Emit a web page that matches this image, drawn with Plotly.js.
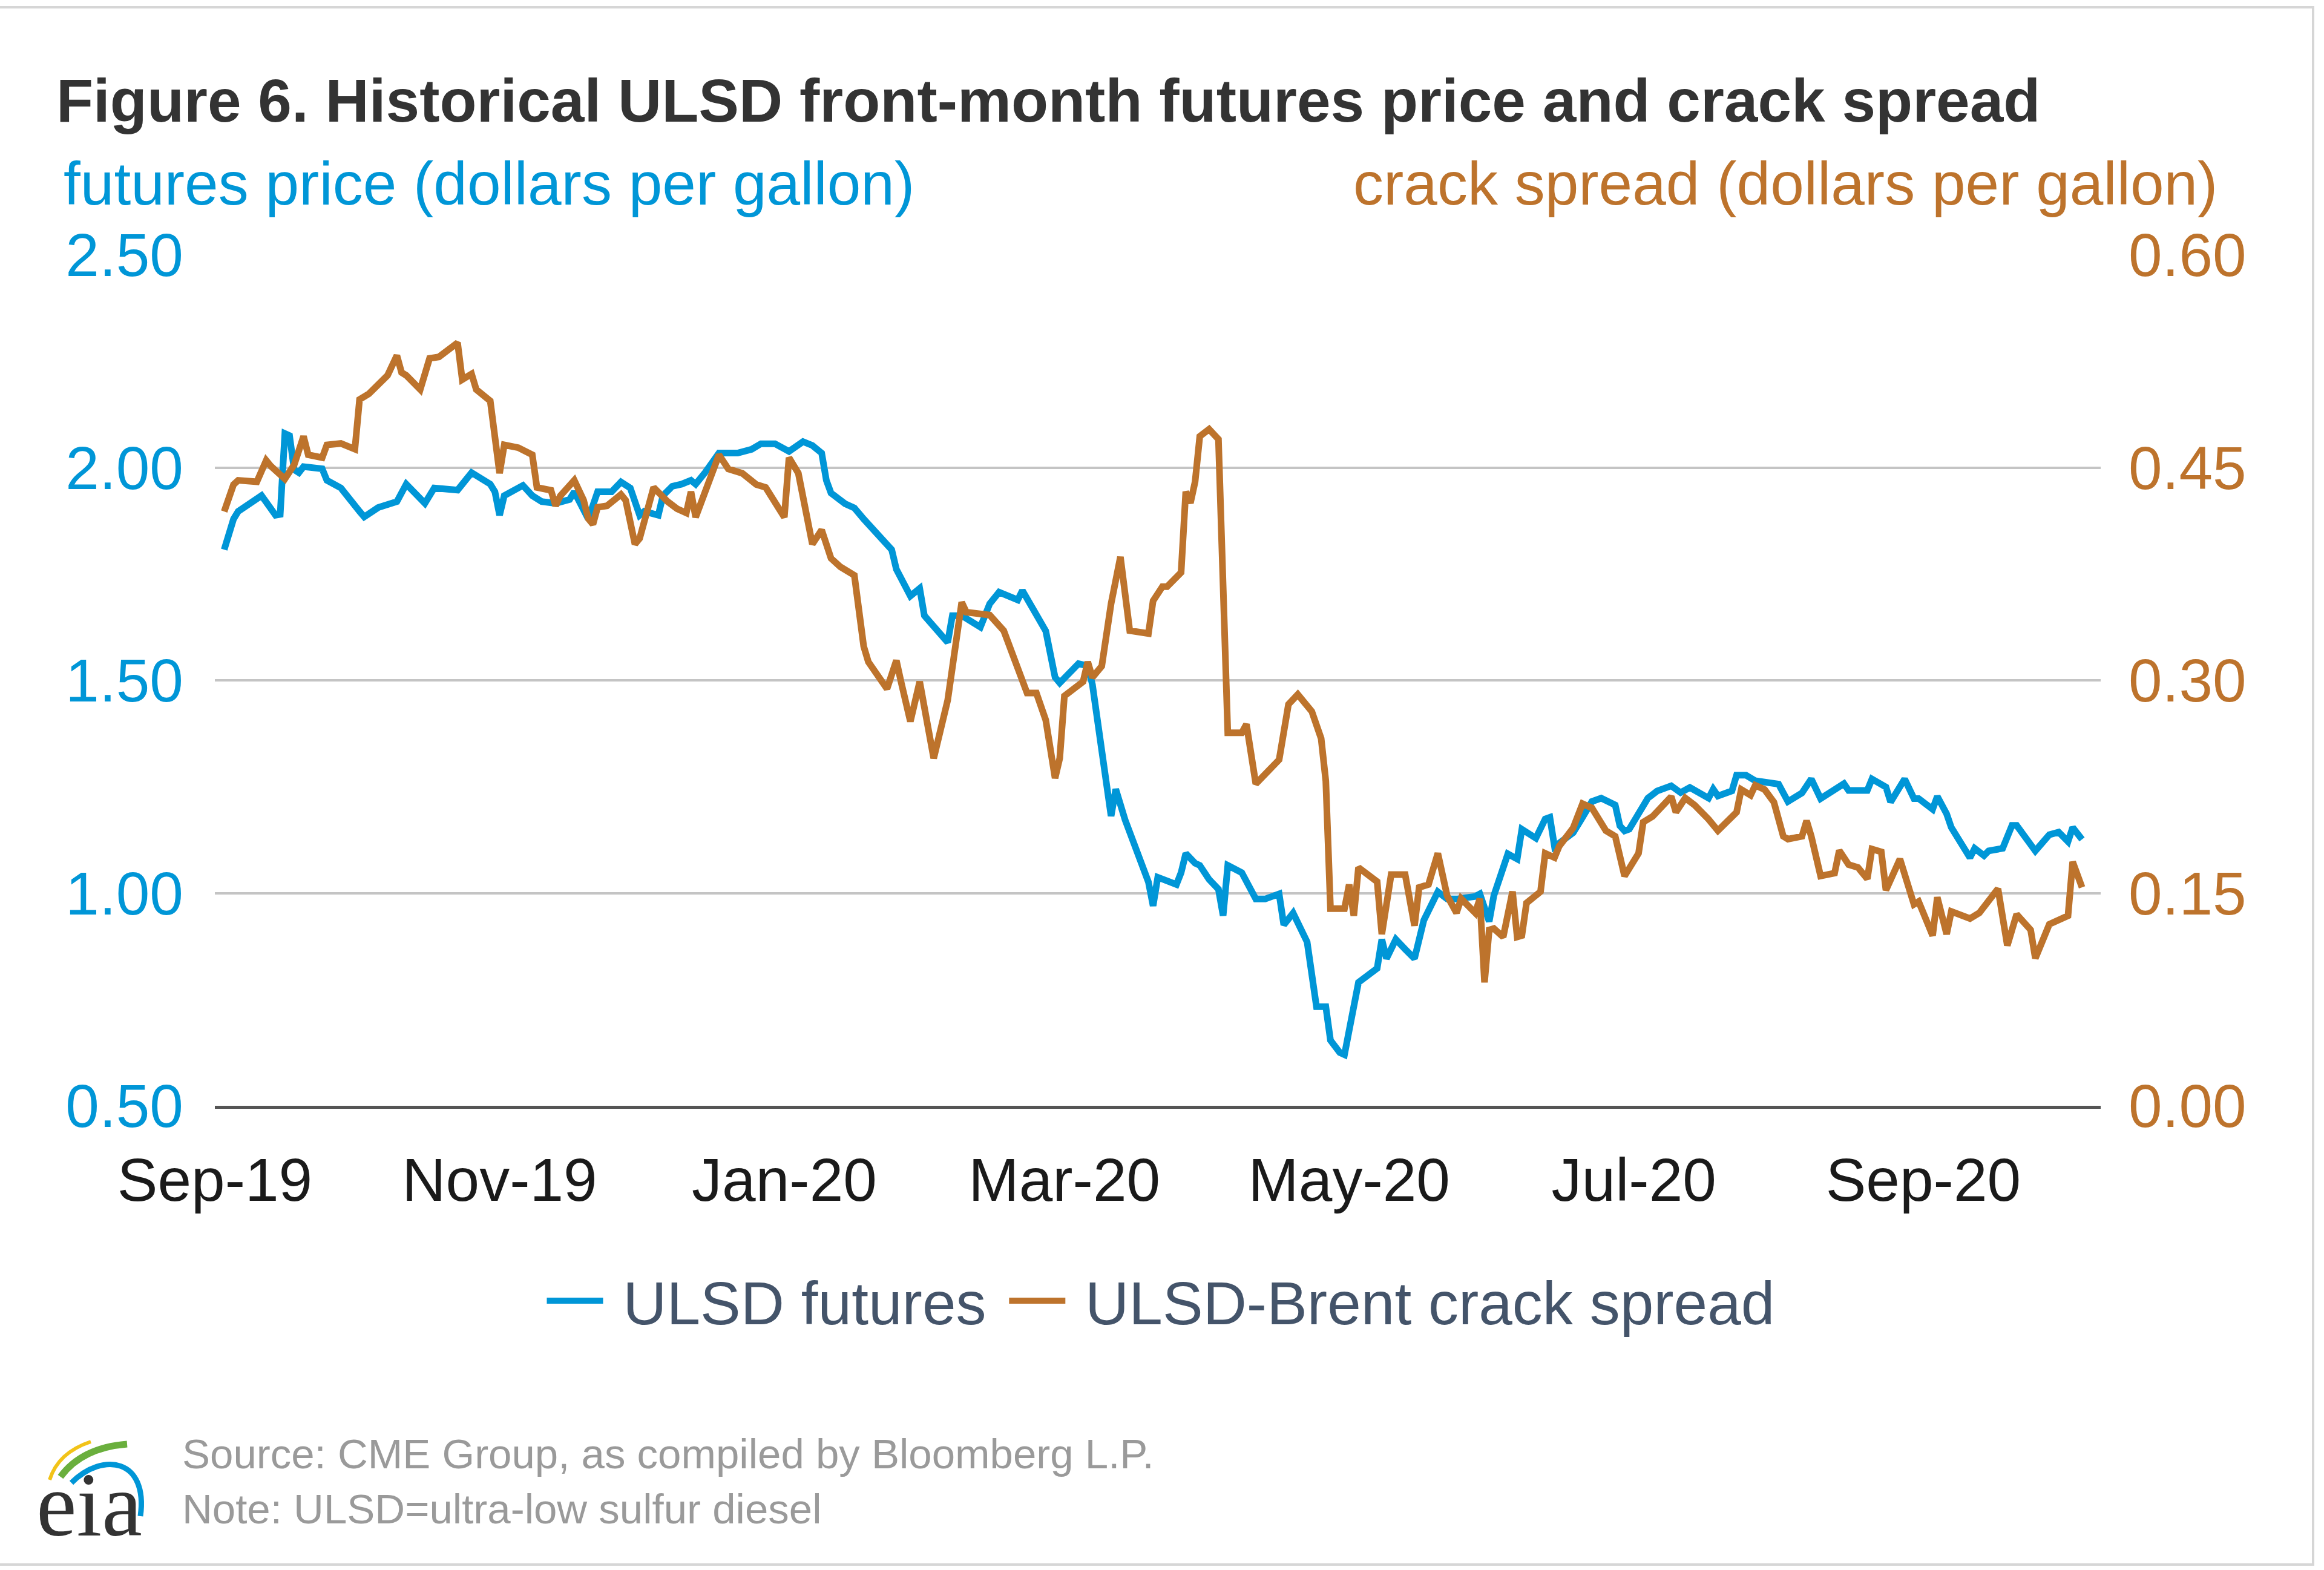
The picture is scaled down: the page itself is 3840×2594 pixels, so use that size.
<!DOCTYPE html>
<html>
<head>
<meta charset="utf-8">
<script src="https://cdn.plot.ly/plotly-3.0.1.min.js"></script>
<style>
html,body{margin:0;padding:0;background:#ffffff;}
#chart{width:3840px;height:2594px;}
</style>
</head>
<body>
<div id="chart"></div>
<script>
// ---- data ----
const seriesNames = ['ULSD futures', 'ULSD-Brent crack spread'];

// ULSD front-month futures price, dollars per gallon
const ulsdFutures = [
 ['2019-09-03',1.807],['2019-09-05',1.879],['2019-09-06',1.897],['2019-09-11',1.934],['2019-09-14',1.888],
 ['2019-09-15',1.890],['2019-09-16',2.080],['2019-09-17',2.075],['2019-09-18',1.995],['2019-09-19',1.988],
 ['2019-09-20',2.002],['2019-09-24',1.997],['2019-09-25',1.970],['2019-09-28',1.952],['2019-10-02',1.897],
 ['2019-10-03',1.884],['2019-10-06',1.906],['2019-10-10',1.920],['2019-10-12',1.961],['2019-10-16',1.916],
 ['2019-10-18',1.952],['2019-10-23',1.947],['2019-10-26',1.988],['2019-10-30',1.961],['2019-10-31',1.943],
 ['2019-11-01',1.888],['2019-11-02',1.934],['2019-11-06',1.958],['2019-11-08',1.934],['2019-11-10',1.920],
 ['2019-11-13',1.916],['2019-11-16',1.925],['2019-11-17',1.943],['2019-11-20',1.879],['2019-11-22',1.943],
 ['2019-11-25',1.943],['2019-11-27',1.966],['2019-11-29',1.952],['2019-12-01',1.888],['2019-12-02',1.897],
 ['2019-12-05',1.888],['2019-12-06',1.934],['2019-12-08',1.956],['2019-12-10',1.961],['2019-12-12',1.970],
 ['2019-12-13',1.961],['2019-12-15',1.988],['2019-12-18',2.034],['2019-12-22',2.034],['2019-12-25',2.043],
 ['2019-12-27',2.056],['2019-12-30',2.056],['2020-01-02',2.038],['2020-01-05',2.061],['2020-01-07',2.052],
 ['2020-01-09',2.034],['2020-01-10',1.970],['2020-01-11',1.940],['2020-01-14',1.915],['2020-01-16',1.905],
 ['2020-01-18',1.879],['2020-01-22',1.834],['2020-01-24',1.807],['2020-01-25',1.761],['2020-01-28',1.698],
 ['2020-01-30',1.716],['2020-01-31',1.652],['2020-02-05',1.589],['2020-02-06',1.652],['2020-02-08',1.652],
 ['2020-02-12',1.625],['2020-02-14',1.680],['2020-02-16',1.707],['2020-02-20',1.689],['2020-02-21',1.711],
 ['2020-02-26',1.616],['2020-02-28',1.507],['2020-02-29',1.494],['2020-03-04',1.539],['2020-03-06',1.534],
 ['2020-03-07',1.490],['2020-03-09',1.335],['2020-03-11',1.181],['2020-03-12',1.244],['2020-03-14',1.172],
 ['2020-03-19',1.026],['2020-03-20',0.970],['2020-03-21',1.037],['2020-03-25',1.020],['2020-03-26',1.048],
 ['2020-03-27',1.093],['2020-03-29',1.070],['2020-03-30',1.065],['2020-04-01',1.032],['2020-04-03',1.009],
 ['2020-04-04',0.947],['2020-04-05',1.065],['2020-04-08',1.048],['2020-04-11',0.986],['2020-04-13',0.986],
 ['2020-04-16',0.998],['2020-04-17',0.925],['2020-04-19',0.953],['2020-04-22',0.885],['2020-04-24',0.733],
 ['2020-04-26',0.733],['2020-04-27',0.654],['2020-04-29',0.625],['2020-04-30',0.620],['2020-05-01',0.677],
 ['2020-05-03',0.790],['2020-05-07',0.823],['2020-05-08',0.891],['2020-05-09',0.846],['2020-05-11',0.891],
 ['2020-05-13',0.868],['2020-05-15',0.846],['2020-05-17',0.936],['2020-05-20',1.003],['2020-05-22',0.986],
 ['2020-05-24',0.986],['2020-05-28',0.992],['2020-05-29',0.998],['2020-05-31',0.933],['2020-06-01',0.994],
 ['2020-06-04',1.092],['2020-06-06',1.080],['2020-06-07',1.150],['2020-06-10',1.129],['2020-06-12',1.174],
 ['2020-06-13',1.178],['2020-06-14',1.109],['2020-06-18',1.142],['2020-06-20',1.178],['2020-06-22',1.215],
 ['2020-06-24',1.223],['2020-06-27',1.207],['2020-06-28',1.158],['2020-06-29',1.146],['2020-06-30',1.150],
 ['2020-07-04',1.223],['2020-07-06',1.240],['2020-07-09',1.252],['2020-07-11',1.236],['2020-07-13',1.248],
 ['2020-07-17',1.223],['2020-07-18',1.244],['2020-07-19',1.228],['2020-07-22',1.240],['2020-07-23',1.277],
 ['2020-07-25',1.277],['2020-07-27',1.264],['2020-07-29',1.260],['2020-08-01',1.256],['2020-08-03',1.215],
 ['2020-08-06',1.235],['2020-08-08',1.268],['2020-08-10',1.222],['2020-08-15',1.257],['2020-08-16',1.241],
 ['2020-08-20',1.241],['2020-08-21',1.268],['2020-08-24',1.249],['2020-08-25',1.214],['2020-08-28',1.268],
 ['2020-08-30',1.222],['2020-08-31',1.222],['2020-09-03',1.197],['2020-09-04',1.227],['2020-09-06',1.186],
 ['2020-09-07',1.154],['2020-09-11',1.083],['2020-09-12',1.105],['2020-09-14',1.088],['2020-09-15',1.099],
 ['2020-09-18',1.105],['2020-09-20',1.159],['2020-09-21',1.159],['2020-09-25',1.099],['2020-09-28',1.137],
 ['2020-09-30',1.143],['2020-10-02',1.121],['2020-10-03',1.154],['2020-10-05',1.126]
];

// ULSD-Brent crack spread, dollars per gallon
const crackSpread = [
 ['2019-09-03',0.419],['2019-09-05',0.438],['2019-09-06',0.441],['2019-09-10',0.440],['2019-09-12',0.455],
 ['2019-09-13',0.451],['2019-09-15',0.445],['2019-09-16',0.442],['2019-09-18',0.452],['2019-09-20',0.472],
 ['2019-09-21',0.459],['2019-09-24',0.457],['2019-09-25',0.466],['2019-09-28',0.467],['2019-10-01',0.463],
 ['2019-10-02',0.498],['2019-10-04',0.502],['2019-10-08',0.515],['2019-10-10',0.529],['2019-10-11',0.517],
 ['2019-10-12',0.515],['2019-10-15',0.505],['2019-10-17',0.527],['2019-10-19',0.528],['2019-10-23',0.538],
 ['2019-10-24',0.512],['2019-10-26',0.516],['2019-10-27',0.505],['2019-10-30',0.497],['2019-10-31',0.468],
 ['2019-11-01',0.446],['2019-11-02',0.466],['2019-11-05',0.464],['2019-11-08',0.459],['2019-11-09',0.436],
 ['2019-11-12',0.434],['2019-11-13',0.423],['2019-11-14',0.430],['2019-11-17',0.441],['2019-11-19',0.427],
 ['2019-11-20',0.414],['2019-11-21',0.410],['2019-11-22',0.422],['2019-11-24',0.423],['2019-11-27',0.431],
 ['2019-11-28',0.427],['2019-11-30',0.396],['2019-12-01',0.400],['2019-12-04',0.436],['2019-12-07',0.426],
 ['2019-12-09',0.421],['2019-12-11',0.418],['2019-12-12',0.433],['2019-12-13',0.415],['2019-12-18',0.459],
 ['2019-12-20',0.449],['2019-12-23',0.446],['2019-12-26',0.438],['2019-12-28',0.436],['2020-01-01',0.415],
 ['2020-01-02',0.457],['2020-01-04',0.446],['2020-01-07',0.396],['2020-01-09',0.406],['2020-01-11',0.386],
 ['2020-01-13',0.380],['2020-01-16',0.374],['2020-01-18',0.324],['2020-01-19',0.313],['2020-01-23',0.294],
 ['2020-01-25',0.314],['2020-01-26',0.299],['2020-01-28',0.271],['2020-01-30',0.299],['2020-02-02',0.245],
 ['2020-02-05',0.286],['2020-02-08',0.355],['2020-02-09',0.348],['2020-02-14',0.346],['2020-02-17',0.335],
 ['2020-02-21',0.299],['2020-02-22',0.291],['2020-02-24',0.291],['2020-02-26',0.272],['2020-02-28',0.231],
 ['2020-02-29',0.245],['2020-03-01',0.289],['2020-03-05',0.299],['2020-03-06',0.313],['2020-03-07',0.302],
 ['2020-03-09',0.310],['2020-03-11',0.354],['2020-03-13',0.387],['2020-03-15',0.335],['2020-03-19',0.333],
 ['2020-03-20',0.356],['2020-03-22',0.366],['2020-03-23',0.366],['2020-03-26',0.376],['2020-03-27',0.433],
 ['2020-03-28',0.425],['2020-03-29',0.440],['2020-03-30',0.472],['2020-04-01',0.477],['2020-04-03',0.470],
 ['2020-04-04',0.360],['2020-04-05',0.263],['2020-04-08',0.263],['2020-04-09',0.269],['2020-04-11',0.227],
 ['2020-04-16',0.244],['2020-04-18',0.283],['2020-04-20',0.290],['2020-04-23',0.278],['2020-04-25',0.259],
 ['2020-04-26',0.229],['2020-04-27',0.139],['2020-04-30',0.139],['2020-05-01',0.156],['2020-05-02',0.134],
 ['2020-05-03',0.168],['2020-05-07',0.158],['2020-05-08',0.121],['2020-05-10',0.163],['2020-05-13',0.163],
 ['2020-05-15',0.127],['2020-05-16',0.154],['2020-05-18',0.156],['2020-05-20',0.178],['2020-05-22',0.148],
 ['2020-05-24',0.136],['2020-05-25',0.146],['2020-05-28',0.136],['2020-05-29',0.146],['2020-05-30',0.087],
 ['2020-05-31',0.124],['2020-06-01',0.125],['2020-06-03',0.119],['2020-06-05',0.151],['2020-06-06',0.119],
 ['2020-06-07',0.120],['2020-06-08',0.143],['2020-06-11',0.151],['2020-06-12',0.178],['2020-06-14',0.175],
 ['2020-06-15',0.183],['2020-06-18',0.196],['2020-06-20',0.213],['2020-06-22',0.210],['2020-06-25',0.194],
 ['2020-06-27',0.190],['2020-06-29',0.162],['2020-07-02',0.178],['2020-07-03',0.200],['2020-07-05',0.204],
 ['2020-07-09',0.218],['2020-07-10',0.207],['2020-07-12',0.217],['2020-07-14',0.212],['2020-07-17',0.202],
 ['2020-07-19',0.194],['2020-07-23',0.207],['2020-07-24',0.223],['2020-07-26',0.219],['2020-07-27',0.226],
 ['2020-07-29',0.223],['2020-07-31',0.214],['2020-08-02',0.190],['2020-08-03',0.188],['2020-08-06',0.190],
 ['2020-08-07',0.201],['2020-08-08',0.190],['2020-08-10',0.162],['2020-08-13',0.164],['2020-08-14',0.180],
 ['2020-08-16',0.170],['2020-08-18',0.168],['2020-08-20',0.160],['2020-08-21',0.181],['2020-08-23',0.179],
 ['2020-08-24',0.152],['2020-08-27',0.174],['2020-08-30',0.142],['2020-08-31',0.144],['2020-09-03',0.120],
 ['2020-09-04',0.147],['2020-09-06',0.121],['2020-09-07',0.137],['2020-09-11',0.132],['2020-09-13',0.136],
 ['2020-09-15',0.144],['2020-09-17',0.153],['2020-09-19',0.113],['2020-09-21',0.135],['2020-09-24',0.124],
 ['2020-09-25',0.104],['2020-09-28',0.128],['2020-10-02',0.134],['2020-10-03',0.172],['2020-10-05',0.154]
];

const xTickVals = ['2019-09-01','2019-11-01','2020-01-01','2020-03-01','2020-05-01','2020-07-01','2020-09-01'];
const xTickText = ['Sep-19','Nov-19','Jan-20','Mar-20','May-20','Jul-20','Sep-20'];
const priceTicks = [0.5, 1.0, 1.5, 2.0, 2.5];
const crackTicks = [0, 0.15, 0.30, 0.45, 0.60];

// ---- styling / layout ----
const BLUE = '#0096D7';
const BROWN = '#BD732C';
const FONT = 'Liberation Sans, Arial, Helvetica, sans-serif';
const NB = '\u00A0';
const W = 3840, H = 2594;
const ML = 355, MR = 369, MT = 421, MB = 767;
const PW = W - ML - MR, PH = H - MT - MB;
const px = v => (v - ML) / PW;          // pixel x -> paper x
const py = v => (MT + PH - v) / PH;     // pixel y -> paper y

const traces = [
  {
    x: ulsdFutures.map(d => d[0]), y: ulsdFutures.map(d => d[1]),
    type: 'scatter', mode: 'lines', name: NB + seriesNames[0] + NB,
    line: {color: BLUE, width: 11}, yaxis: 'y', hoverinfo: 'skip'
  },
  {
    x: crackSpread.map(d => d[0]), y: crackSpread.map(d => d[1]),
    type: 'scatter', mode: 'lines', name: NB + seriesNames[1],
    line: {color: BROWN, width: 11}, yaxis: 'y2', hoverinfo: 'skip'
  }
];

function pth(pts) { // pixel points -> paper path coordinates
  return pts.map(p => px(p[0]).toFixed(5) + ',' + py(p[1]).toFixed(5)).join(' ');
}

const layout = {
  width: W, height: H,
  margin: {l: ML, r: MR, t: MT, b: MB, pad: 0},
  paper_bgcolor: '#ffffff', plot_bgcolor: '#ffffff',
  font: {family: FONT},
  title: {
    text: 'Figure 6. Historical ULSD front-month futures price and crack spread',
    font: {family: FONT, size: 100, color: '#333333', weight: 700},
    xref: 'container', yref: 'container',
    x: 93 / W, xanchor: 'left',
    y: 1 - 166 / H, yanchor: 'middle'
  },
  showlegend: true,
  legend: {
    orientation: 'h', x: px(1918), xanchor: 'center', y: py(2149), yanchor: 'middle',
    font: {family: FONT, size: 100, color: '#44546A'},
    bgcolor: 'rgba(0,0,0,0)', itemwidth: 93, traceorder: 'normal'
  },
  xaxis: {
    type: 'date', range: ['2019-09-01', '2020-10-09'],
    tickvals: xTickVals, ticktext: xTickText,
    ticks: 'outside', ticklen: 32, tickcolor: 'rgba(0,0,0,0)',
    tickfont: {family: FONT, size: 100, color: '#1a1a1a'},
    showgrid: false, zeroline: false,
    showline: true, linecolor: '#555555', linewidth: 5,
    fixedrange: true
  },
  yaxis: {
    range: [0.5, 2.5], tickvals: priceTicks, tickformat: '.2f',
    ticks: 'outside', ticklen: 31, tickcolor: 'rgba(0,0,0,0)',
    tickfont: {family: FONT, size: 100, color: BLUE},
    showgrid: true, gridcolor: '#c4c4c4', gridwidth: 4,
    zeroline: false, showline: false, fixedrange: true
  },
  yaxis2: {
    overlaying: 'y', side: 'right',
    range: [0, 0.6], tickvals: crackTicks, tickformat: '.2f',
    ticks: 'outside', ticklen: 25, tickcolor: 'rgba(0,0,0,0)',
    tickfont: {family: FONT, size: 100, color: BROWN},
    showgrid: false, zeroline: false, showline: false, fixedrange: true
  },
  annotations: [
    {text: 'futures price (dollars per gallon)', xref: 'paper', yref: 'paper',
     x: px(103), xanchor: 'left', y: py(303), yanchor: 'middle', showarrow: false,
     font: {family: FONT, size: 100, color: BLUE}},
    {text: 'crack spread (dollars per gallon)', xref: 'paper', yref: 'paper',
     x: px(3666), xanchor: 'right', y: py(303), yanchor: 'middle', showarrow: false,
     font: {family: FONT, size: 100, color: BROWN}},
    {text: 'Source: CME Group, as compiled by Bloomberg L.P.', xref: 'paper', yref: 'paper',
     x: px(299), xanchor: 'left', y: py(2402), yanchor: 'middle', showarrow: false,
     font: {family: FONT, size: 69, color: '#9a9a9a'}},
    {text: 'Note: ULSD=ultra-low sulfur diesel', xref: 'paper', yref: 'paper',
     x: px(299), xanchor: 'left', y: py(2493), yanchor: 'middle', showarrow: false,
     font: {family: FONT, size: 69, color: '#9a9a9a'}},
    {text: 'eia', xref: 'paper', yref: 'paper',
     x: px(58), xanchor: 'left', y: py(2486), yanchor: 'middle', showarrow: false,
     font: {family: 'Liberation Serif, DejaVu Serif, serif', size: 150, color: '#333333'}}
  ],
  shapes: [
    {type: 'rect', xref: 'paper', yref: 'paper', x0: px(-10), x1: px(3822), y0: py(12), y1: py(2585),
     line: {color: '#d6d6d6', width: 4}, fillcolor: 'rgba(0,0,0,0)', layer: 'below'},
    {type: 'path', xref: 'paper', yref: 'paper', line: {color: '#F2C318', width: 6},
     path: 'M' + pth([[82, 2445]]) + ' Q' + pth([[96, 2400], [150, 2382]])},
    {type: 'path', xref: 'paper', yref: 'paper', line: {color: '#6AAF3D', width: 11},
     path: 'M' + pth([[100, 2440]]) + ' Q' + pth([[135, 2392], [210, 2386]])},
    {type: 'path', xref: 'paper', yref: 'paper', line: {color: BLUE, width: 9},
     path: 'M' + pth([[118, 2450]]) + ' C' + pth([[170, 2398], [245, 2410], [232, 2505]])}
  ]
};

Plotly.newPlot('chart', traces, layout, {staticPlot: true, displayModeBar: false});
</script>
</body>
</html>
